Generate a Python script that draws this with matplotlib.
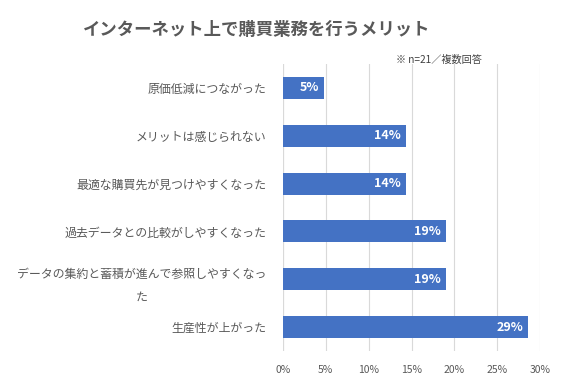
import matplotlib
matplotlib.use("Agg")
import matplotlib.pyplot as plt

plt.rcParams['font.family'] = ['Noto Sans CJK JP', 'DejaVu Sans']

categories = ["原価低減につながった", "メリットは感じられない", "最適な購買先が見つけやすくなった",
              "過去データとの比較がしやすくなった", "データの集約と蓄積が進んで参照しやすくなっ\nた",
              "生産性が上がった"]
values = [4.8, 14.3, 14.3, 19.0, 19.0, 28.6]
labels = ["5%", "14%", "14%", "19%", "19%", "29%"]
xticks = [0, 5, 10, 15, 20, 25, 30]

fig = plt.figure(figsize=(5.83, 3.87), dpi=100)
ax = fig.add_axes([283/583, 36/387, (540-283)/583, (351-64)/387])

y = list(range(len(categories)))
ax.barh(y, values, height=0.46, color="#4472C4", zorder=3)
for yi, v, lab in zip(y, values, labels):
    ax.text(v - 0.6, yi, lab, ha="right", va="center", color="white",
            fontsize=9, fontweight="bold", zorder=4)

ax.set_ylim(len(categories) - 0.5, -0.5)
ax.set_xlim(0, 30)
ax.set_xticks(xticks)
ax.set_xticklabels([f"{t}%" for t in xticks], color="#595959", fontsize=7.5)
ax.set_yticks(y)
ax.set_yticklabels(categories, color="#595959", fontsize=8.6, multialignment="center",
                   linespacing=2.0)
ax.tick_params(axis="x", length=0, pad=10)
ax.tick_params(axis="y", length=0, pad=12)
ax.grid(axis="x", color="#d9d9d9", linewidth=0.8, zorder=0)
for s in ax.spines.values():
    s.set_visible(False)
ax.axvline(0, color="#d9d9d9", linewidth=0.8, zorder=1)

fig.text(257/583, 1 - 30/387, "インターネット上で購買業務を行うメリット", ha="center", va="center",
         fontsize=12.5, fontweight="bold", color="#595959")
fig.text(482/583, 1 - 60/387, "※ n=21／複数回答", ha="right", va="center",
         fontsize=7.3, color="#404040")

fig.savefig("out.png", dpi=100, facecolor="white")
